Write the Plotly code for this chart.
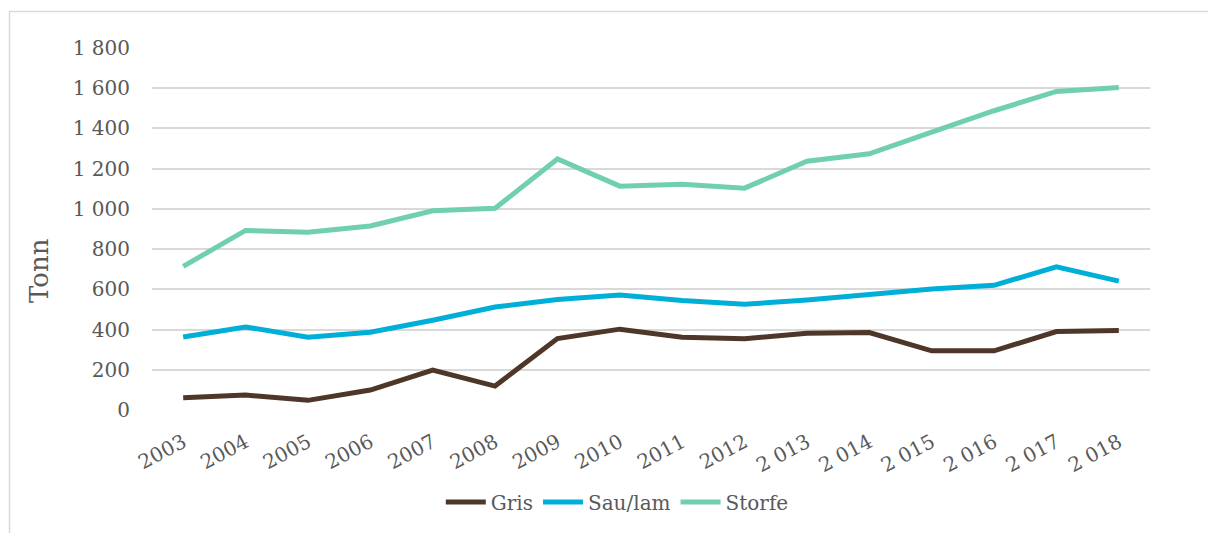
import plotly.graph_objects as go

years = ["2003", "2004", "2005", "2006", "2007", "2008", "2009", "2010",
         "2011", "2012", "2 013", "2 014", "2 015", "2 016", "2 017", "2 018"]
gris = [61, 74, 48, 99, 198, 119, 355, 402, 362, 354, 382, 385, 294, 294, 390, 395]
sau_lam = [363, 413, 362, 387, 446, 512, 549, 572, 544, 526, 547, 572, 602, 620, 712, 641]
storfe = [714, 893, 884, 915, 991, 1003, 1248, 1113, 1123, 1103, 1237, 1274, 1382, 1488, 1584, 1603]

series_names = ["Gris", "Sau/lam", "Storfe"]
series_colors = ["#4e3629", "#00afd7", "#6fcfb0"]
y_ticks = [0, 200, 400, 600, 800, 1000, 1200, 1400, 1600, 1800]
y_ticktext = ["0", "200", "400", "600", "800", "1 000", "1 200", "1 400", "1 600", "1 800"]
y_title = "Tonn"

FONT = "DejaVu Serif"
TXT = "#595959"

fig = go.Figure()
for name, vals, col in zip(series_names, [gris, sau_lam, storfe], series_colors):
    fig.add_trace(go.Scatter(x=years, y=vals, name=name, mode="lines",
                             line=dict(color=col, width=5)))

W, H = 1208, 533
L, R, T, B = 152, 58, 48, 123
pw, ph = W - L - R, H - T - B

def px(xp):
    return (xp - L) / pw

def py(yp):
    return (H - B - yp) / ph

fig.add_shape(type="rect", xref="paper", yref="paper",
              x0=px(9.5), x1=px(1230), y0=py(11.5), y1=py(560),
              line=dict(color="#d9d9d9", width=1.5), fillcolor="rgba(0,0,0,0)",
              layer="below")

fig.add_annotation(text=y_title, xref="paper", yref="paper",
                   x=px(39), y=py(271), xanchor="center", yanchor="middle",
                   textangle=-90, showarrow=False,
                   font=dict(family=FONT, size=26, color=TXT))

fig.update_layout(
    width=W, height=H,
    margin=dict(l=L, r=R, t=T, b=B, autoexpand=False),
    paper_bgcolor="white", plot_bgcolor="white",
    font=dict(family=FONT, color=TXT, size=20),
    showlegend=True,
    legend=dict(orientation="h", xref="container", x=0.511, xanchor="center",
                yref="container", y=(H - 502) / H, yanchor="middle",
                font=dict(family=FONT, size=20, color=TXT),
                itemwidth=40, traceorder="normal"),
    xaxis=dict(type="category", showgrid=False, zeroline=False, showline=False,
               ticks="", tickangle=-28, tickfont=dict(size=20, color=TXT),
               ticklabelstandoff=16, automargin=False,
               range=[-0.5, len(years) - 0.5]),
    yaxis=dict(range=[0, 1800], tickvals=y_ticks, ticktext=y_ticktext,
               showgrid=True, gridcolor="#d9d9d9", gridwidth=1.5,
               zeroline=False, showline=False, ticks="", automargin=False,
               tickfont=dict(size=20, color=TXT), ticklabelstandoff=21),
)

fig.write_html("out.html", config={"displayModeBar": False},
               post_script="document.body.style.margin='0';")
